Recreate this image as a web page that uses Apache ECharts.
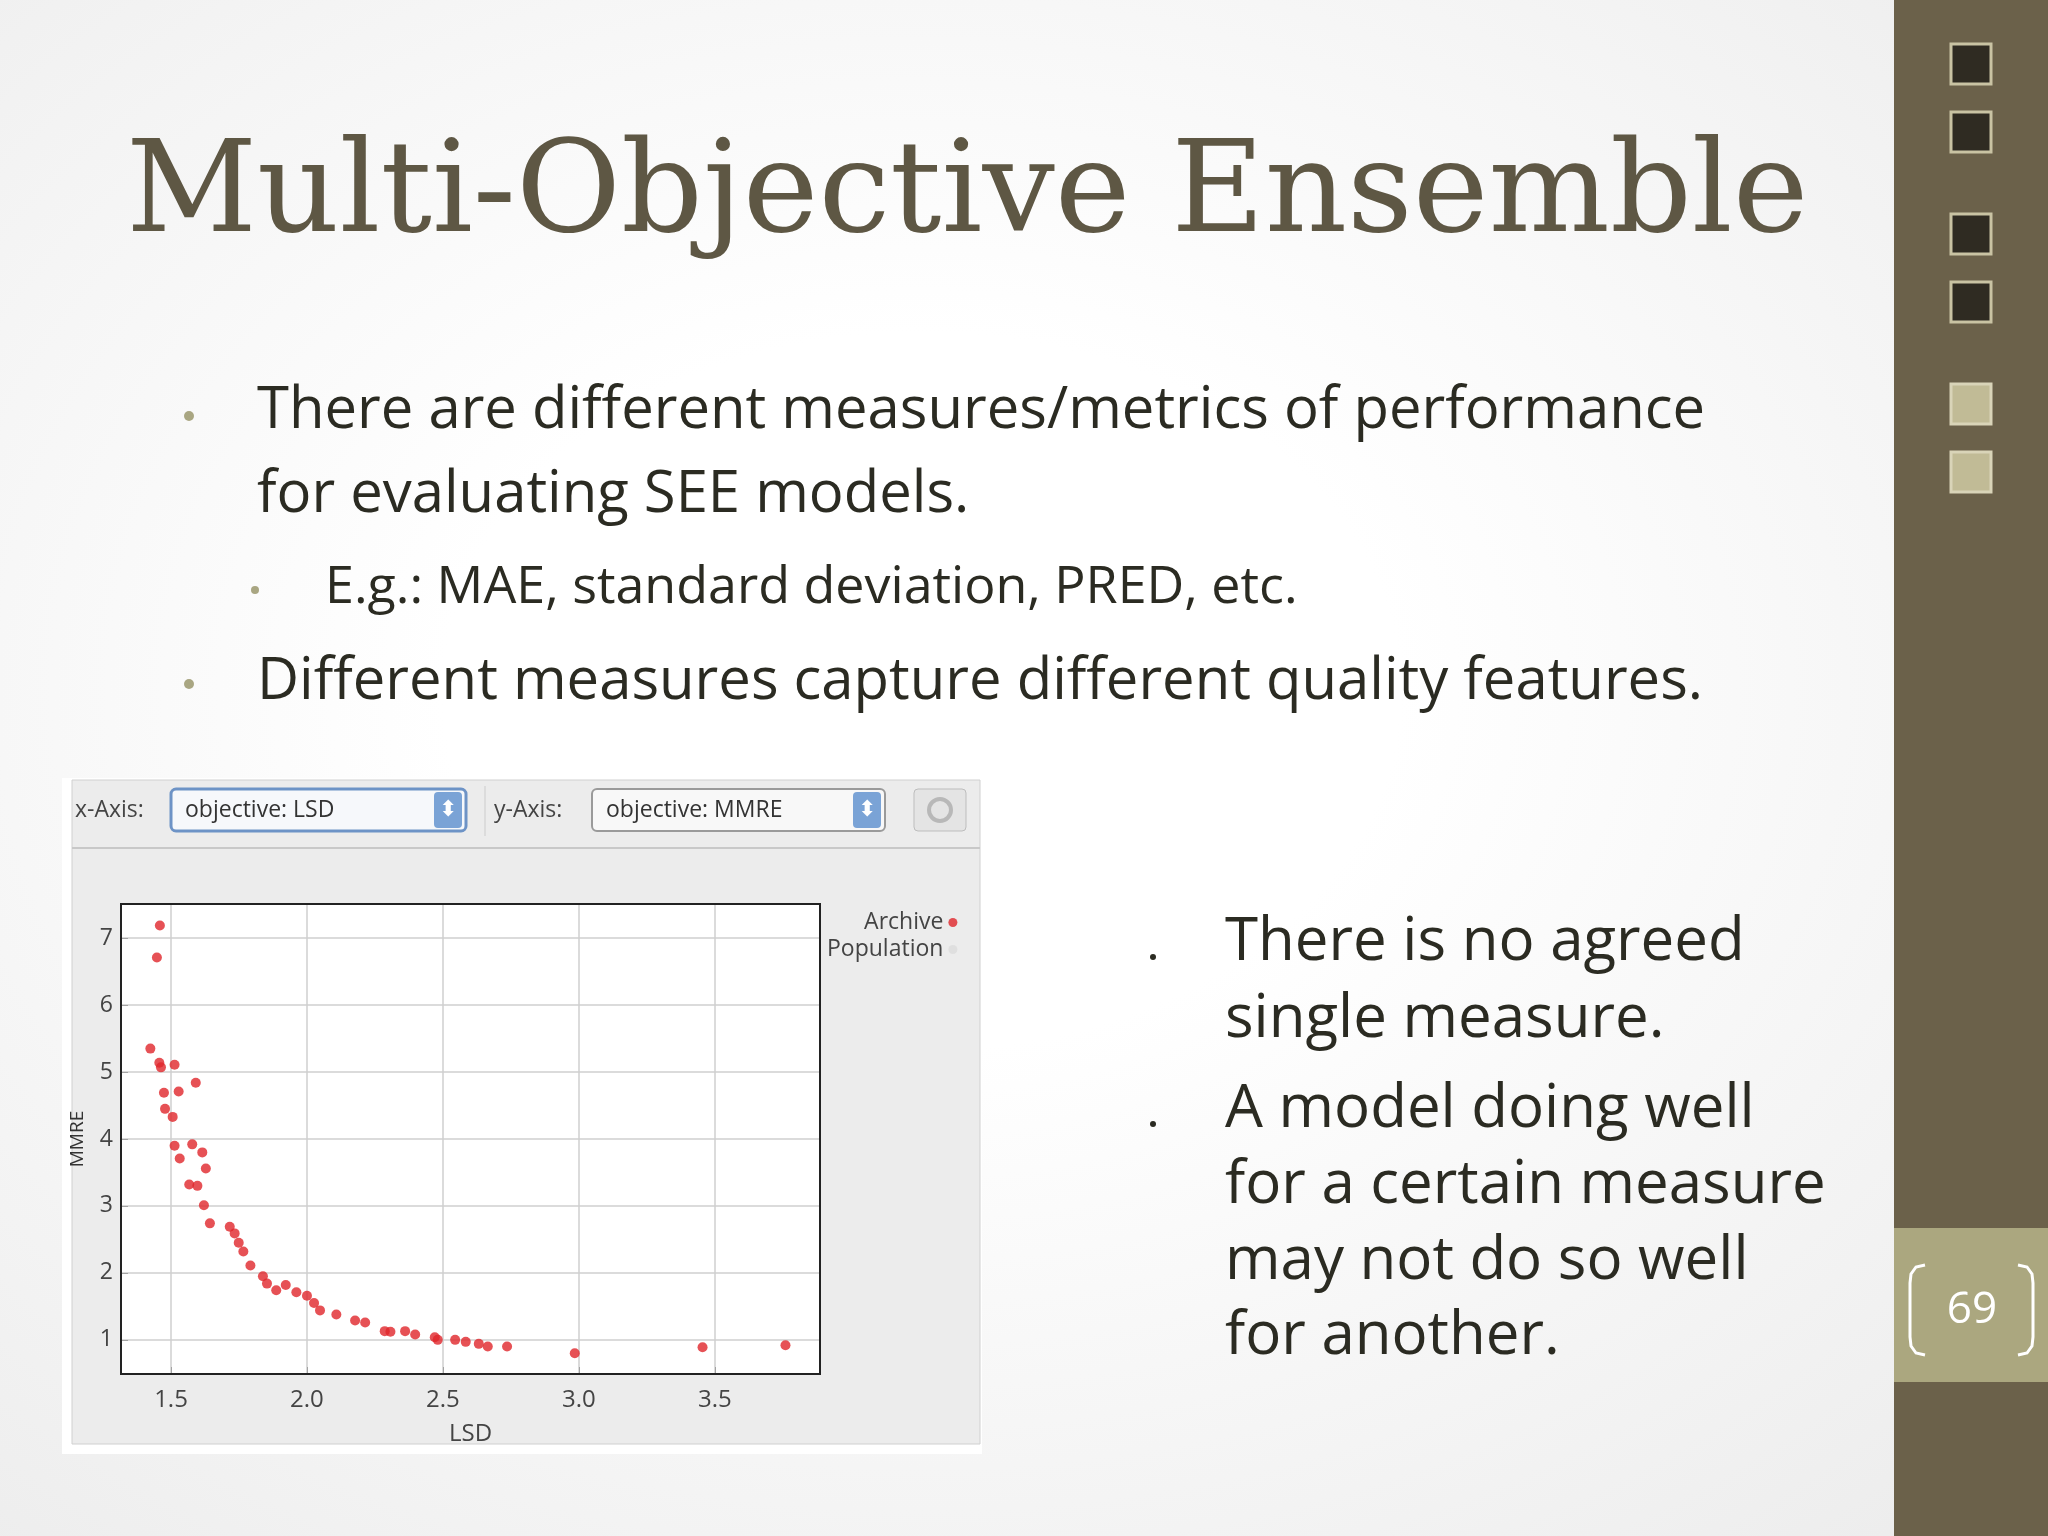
<!DOCTYPE html>
<html>
<head>
<meta charset="utf-8">
<script src="https://cdn.jsdelivr.net/npm/echarts@6/dist/echarts.min.js"></script>
<style>
  html, body { margin: 0; padding: 0; }
  body { background: radial-gradient(ellipse at 45% 45%, #ffffff 30%, #ebebeb 100%); }
  #chart { width: 2048px; height: 1536px; }
</style>
</head>
<body>
<div id="chart"></div>
<script>
// Archive points: LSD (x) vs MMRE (y)
const archiveLSD = [1.459, 1.448, 1.424, 1.457, 1.463, 1.513, 1.591, 1.474, 1.528, 1.478,
  1.506, 1.513, 1.532, 1.578, 1.615, 1.628, 1.567, 1.597, 1.621, 1.643,
  1.716, 1.734, 1.749, 1.766, 1.792, 1.838, 1.853, 1.887, 1.922, 1.961,
  2.0, 2.026, 2.048, 2.108, 2.177, 2.214, 2.286, 2.307, 2.361, 2.398,
  2.470, 2.481, 2.545, 2.584, 2.632, 2.665, 2.736, 2.985, 3.455, 3.760]
const archiveMMRE = [7.19, 6.71, 5.35, 5.14, 5.07, 5.11, 4.84, 4.69, 4.71, 4.45,
  4.33, 3.90, 3.71, 3.92, 3.80, 3.56, 3.32, 3.30, 3.01, 2.74,
  2.69, 2.59, 2.45, 2.32, 2.11, 1.95, 1.84, 1.74, 1.82, 1.71,
  1.66, 1.55, 1.44, 1.38, 1.29, 1.26, 1.13, 1.12, 1.13, 1.08,
  1.04, 1.00, 1.00, 0.97, 0.94, 0.90, 0.90, 0.80, 0.89, 0.92]
const xTicks = [1.5, 2.0, 2.5, 3.0, 3.5]
const yTicks = [1, 2, 3, 4, 5, 6, 7]
const xTickLabels = ['1.5', '2.0', '2.5', '3.0', '3.5']

const chart = echarts.init(document.getElementById('chart'))

const slideText = '#2b2b22'
const bulletDot = '#a9a682'
const fontUI = 'Open Sans, sans-serif'

function txt(x, y, text, size, color, extra) {
  return { type: 'text', x, y, style: Object.assign({ text, font: size + 'px ' + fontUI, fill: color, verticalAlign: 'middle' }, extra || {}) }
}
function sq(y, dark) {
  return { type: 'rect', shape: { x: 1951, y, width: 40, height: 40 },
    style: { fill: dark ? '#2f2b22' : '#c1bb96', stroke: dark ? '#c9c3a3' : '#d9d4b8', lineWidth: 3 } }
}
function bracket(x0, dir) {
  const p = [[x0, 1265], [x0 - dir * 9, 1267], [x0 - dir * 14, 1274], [x0 - dir * 15, 1283],
    [x0 - dir * 15, 1337], [x0 - dir * 14, 1346], [x0 - dir * 9, 1353], [x0, 1355]]
  return { type: 'polyline', shape: { points: p }, style: { stroke: '#ffffff', lineWidth: 3, fill: null } }
}

const graphics = [
  // sidebar
  { type: 'rect', shape: { x: 1894, y: 0, width: 154, height: 1536 }, style: { fill: '#6b614a' } },
  sq(44, true), sq(112, true), sq(214, true), sq(282, true), sq(384, false), sq(452, false),
  { type: 'rect', shape: { x: 1894, y: 1228, width: 154, height: 154 }, style: { fill: '#aba77f' } },
  bracket(1925, 1), bracket(2018, -1),
  txt(1972, 1310, '69', 44, '#ffffff', { align: 'center' }),

  // title
  { type: 'text', x: 126, y: 198, style: { text: 'Multi-Objective Ensemble', font: '128px "DejaVu Serif", serif',
    fill: '#5e5744', verticalAlign: 'middle' } },

  // bullets
  { type: 'circle', shape: { cx: 189, cy: 416, r: 5 }, style: { fill: bulletDot } },
  txt(257, 411, 'There are different measures/metrics of performance', 58, slideText),
  txt(257, 495, 'for evaluating SEE models.', 58, slideText),
  { type: 'circle', shape: { cx: 255, cy: 590, r: 4 }, style: { fill: bulletDot } },
  txt(325, 588, 'E.g.: MAE, standard deviation, PRED, etc.', 52, slideText),
  { type: 'circle', shape: { cx: 189, cy: 684, r: 5 }, style: { fill: bulletDot } },
  txt(257, 682, 'Different measures capture different quality features.', 58, slideText),

  { type: 'circle', shape: { cx: 1153, cy: 957, r: 3 }, style: { fill: slideText } },
  txt(1225, 943, 'There is no agreed', 60, slideText),
  txt(1225, 1020, 'single measure.', 60, slideText),
  { type: 'circle', shape: { cx: 1153, cy: 1124, r: 3 }, style: { fill: slideText } },
  txt(1225, 1110, 'A model doing well', 60, slideText),
  txt(1225, 1186, 'for a certain measure', 60, slideText),
  txt(1225, 1262, 'may not do so well', 60, slideText),
  txt(1225, 1337, 'for another.', 60, slideText),

  // screenshot panel
  { type: 'rect', z: -10, shape: { x: 62, y: 778, width: 920, height: 676 }, style: { fill: '#ffffff' } },
  { type: 'rect', z: -9, shape: { x: 72, y: 780, width: 908, height: 664 }, style: { fill: '#ececec', stroke: '#d0d0d0', lineWidth: 1 } },
  { type: 'line', z: -8, shape: { x1: 72, y1: 848, x2: 980, y2: 848 }, style: { stroke: '#c8c8c8', lineWidth: 2 } },
  txt(75, 810, 'x-Axis:', 23, '#444'),
  { type: 'rect', z: -8, shape: { x: 171, y: 789, width: 295, height: 42, r: 5 }, style: { fill: '#f6f8fb', stroke: '#6d93c6', lineWidth: 3 } },
  txt(185, 810, 'objective: LSD', 23, '#333'),
  { type: 'rect', z: -7, shape: { x: 434, y: 792, width: 28, height: 36, r: 4 }, style: { fill: '#7aa3d6' } },
  txt(448, 810, '⬍', 22, '#ffffff', { align: 'center' }),
  { type: 'line', z: -8, shape: { x1: 485, y1: 786, x2: 485, y2: 836 }, style: { stroke: '#cccccc', lineWidth: 1 } },
  txt(494, 810, 'y-Axis:', 23, '#444'),
  { type: 'rect', z: -8, shape: { x: 592, y: 789, width: 293, height: 42, r: 5 }, style: { fill: '#f8f8f8', stroke: '#9a9a9a', lineWidth: 2 } },
  txt(606, 810, 'objective: MMRE', 23, '#333'),
  { type: 'rect', z: -7, shape: { x: 853, y: 792, width: 28, height: 36, r: 4 }, style: { fill: '#7aa3d6' } },
  txt(867, 810, '⬍', 22, '#ffffff', { align: 'center' }),
  { type: 'rect', z: -8, shape: { x: 914, y: 789, width: 52, height: 42, r: 4 }, style: { fill: '#e4e4e4', stroke: '#bdbdbd', lineWidth: 1 } },
  { type: 'circle', z: -7, shape: { cx: 940, cy: 810, r: 11 }, style: { fill: null, stroke: '#b8b8b8', lineWidth: 4 } },

  // plot background and frame
  { type: 'rect', z: -5, shape: { x: 121, y: 904, width: 699, height: 470 }, style: { fill: '#ffffff' } },
  { type: 'rect', z: 10, shape: { x: 121, y: 904, width: 699, height: 470 }, style: { fill: null, stroke: '#222', lineWidth: 2 } }
]

chart.setOption({
  backgroundColor: 'transparent',
  animation: false,
  textStyle: { fontFamily: fontUI },
  graphic: graphics,
  legend: {
    orient: 'vertical', left: 822, top: 906, align: 'right', itemGap: 4,
    itemWidth: 9, itemHeight: 9, icon: 'circle',
    textStyle: { fontSize: 23, color: '#444' },
    data: ['Archive', 'Population']
  },
  grid: { left: 121, top: 904, width: 699, height: 470, show: false },
  xAxis: {
    type: 'value', min: 1.316, max: 3.887,
    name: 'LSD', nameLocation: 'middle', nameGap: 48,
    nameTextStyle: { fontSize: 24, color: '#444' },
    axisLine: { show: false },
    axisTick: { inside: true, length: 7, customValues: xTicks, lineStyle: { color: '#222' } },
    axisLabel: { customValues: xTicks, fontSize: 24, color: '#444', margin: 14,
      formatter: v => xTickLabels[xTicks.indexOf(+(+v).toFixed(1))] || '' },
    splitLine: { show: false }
  },
  yAxis: {
    type: 'value', min: 0.49, max: 7.51,
    name: 'MMRE', nameLocation: 'middle', nameGap: 34, nameRotate: 90,
    nameTextStyle: { fontSize: 19, color: '#333' },
    axisLine: { show: false },
    axisTick: { inside: true, length: 7, customValues: yTicks, lineStyle: { color: '#222' } },
    axisLabel: { customValues: yTicks, fontSize: 23, color: '#444', margin: 8 },
    splitLine: { show: false }
  },
  series: [
    {
      name: 'Archive', type: 'scatter', symbolSize: 10,
      itemStyle: { color: '#e0262a' },
      data: archiveLSD.map((x, i) => [x, archiveMMRE[i]]),
      markLine: {
        silent: true, symbol: 'none', label: { show: false }, z: 1,
        lineStyle: { color: '#cfcfcf', width: 1.5, type: 'solid' },
        data: xTicks.map(v => ({ xAxis: v })).concat(yTicks.map(v => ({ yAxis: v })))
      }
    },
    { name: 'Population', type: 'scatter', symbolSize: 10, itemStyle: { color: '#dcdcdc' }, data: [] }
  ]
})
</script>
</body>
</html>
